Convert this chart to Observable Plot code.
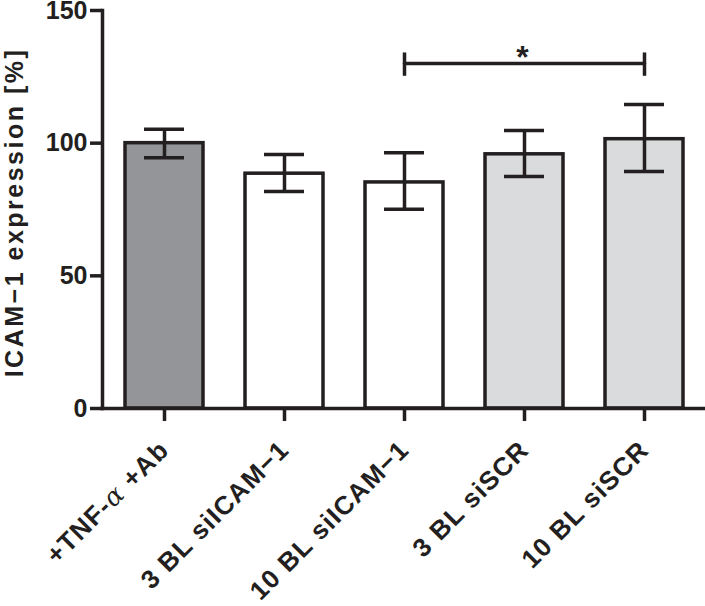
<!DOCTYPE html>
<html>
<head>
<meta charset="utf-8">
<script src="https://cdn.jsdelivr.net/npm/d3@7"></script>
<script src="https://cdn.jsdelivr.net/npm/@observablehq/plot@0.6"></script>
<style>
  html, body { margin: 0; padding: 0; background: #ffffff; }
  #chart svg { display: block; }
</style>
</head>
<body>
<div id="chart"></div>
<script>
// ---- data ----
const categories = ["+TNF-α +Ab", "3 BL siICAM−1", "10 BL siICAM−1", "3 BL siSCR", "10 BL siSCR"];
const means      = [100, 88.5, 85.2, 95.8, 101.5];
const errLow     = [94.5, 81.8, 75.1, 87.4, 89.3];
const errHigh    = [105.2, 95.7, 96.4, 104.8, 114.6];
const barFills   = ["#939598", "#ffffff", "#ffffff", "#dadbdc", "#dadbdc"];
const yTicks     = [0, 50, 100, 150];
const yLabel     = "ICAM−1 expression [%]";
// significance bracket
const sigFrom    = "10 BL siICAM−1";
const sigTo      = "10 BL siSCR";
const sigMid     = "3 BL siSCR";
const sigY       = 130;
const sigTickLow = 125.2;
const sigTickHigh = 134;
const sigText    = "*";

// ---- build ----
const ink = "#231f20";
const lw = 3.5;
const rows = categories.map((c, i) => ({cat: c, mean: means[i], lo: errLow[i], hi: errHigh[i], fill: barFills[i]}));
const sigLine = [{cat: sigFrom, v: sigY}, {cat: sigTo, v: sigY}];
const sigTicks = [{cat: sigFrom}, {cat: sigTo}];

const chart = Plot.plot({
  width: 705,
  height: 606,
  marginLeft: 102,
  marginRight: 0,
  marginTop: 10,
  marginBottom: 198,
  style: {fontFamily: "'Liberation Sans', Arial, sans-serif", fontWeight: "bold", color: ink, background: "#ffffff", overflow: "visible"},
  x: {domain: categories, paddingInner: 0.35, paddingOuter: 0.18, axis: null},
  y: {domain: [0, 150], axis: null},
  color: {type: "identity"},
  marks: [
    Plot.barY(rows, {x: "cat", y: "mean", fill: "fill", stroke: ink, strokeWidth: lw}),
    Plot.ruleX(rows, {x: "cat", y1: "lo", y2: "hi", stroke: ink, strokeWidth: lw}),
    Plot.tickY(rows, {x: "cat", y: "hi", stroke: ink, strokeWidth: lw, insetLeft: 19, insetRight: 19}),
    Plot.tickY(rows, {x: "cat", y: "lo", stroke: ink, strokeWidth: lw, insetLeft: 19, insetRight: 19}),
    // significance bracket
    Plot.line(sigLine, {x: "cat", y: "v", stroke: ink, strokeWidth: lw}),
    Plot.ruleX(sigTicks, {x: "cat", y1: () => sigTickLow, y2: () => sigTickHigh, stroke: ink, strokeWidth: lw}),
    Plot.text([sigText], {x: () => sigMid, y: () => sigY, text: d => d, dx: -2, dy: 4, lineAnchor: "bottom", fontSize: 32, fill: ink}),
    // axes
    Plot.axisY({ticks: yTicks, tickSize: 12, tickPadding: 3, fontSize: 25, stroke: ink, strokeWidth: lw, fill: ink, label: null}),
    Plot.axisX({tickSize: 13, tickFormat: () => "", stroke: ink, strokeWidth: lw, label: null}),
    Plot.frame({anchor: "left", stroke: ink, strokeWidth: lw}),
    Plot.frame({anchor: "bottom", stroke: ink, strokeWidth: lw}),
    // x tick labels
    Plot.text(categories, {x: d => d, y: () => 0, text: d => d, rotate: -45, textAnchor: "end", lineAnchor: "bottom", dx: 6, dy: 43, fontSize: 26, fill: ink}),
    // y axis label
    Plot.text([yLabel], {frameAnchor: "left", rotate: -90, dx: -88, dy: 3, text: d => d, fontSize: 25, textAnchor: "middle", lineAnchor: "middle", fill: ink})
  ]
});

document.getElementById("chart").appendChild(chart);

// typographic details: letter spacing and the Greek alpha in serif italic
const svg = d3.select(chart);
const xLabelTexts = svg.selectAll("text").filter(function() { return categories.includes(this.textContent); });
const yLabelTexts = svg.selectAll("text").filter(function() { return this.textContent === yLabel; });
xLabelTexts.style("letter-spacing", "1.2px");
yLabelTexts.style("letter-spacing", "2.5px");
xLabelTexts.each(function() {
  const t = d3.select(this);
  const s = this.textContent;
  const k = s.indexOf("α");
  if (k >= 0) {
    t.text(null);
    t.append("tspan").text(s.slice(0, k));
    t.append("tspan").text("α").style("font-family", "'DejaVu Serif', 'Liberation Serif', serif").style("font-style", "italic").style("font-weight", "normal");
    t.append("tspan").text(s.slice(k + 1));
  }
});
</script>
</body>
</html>
